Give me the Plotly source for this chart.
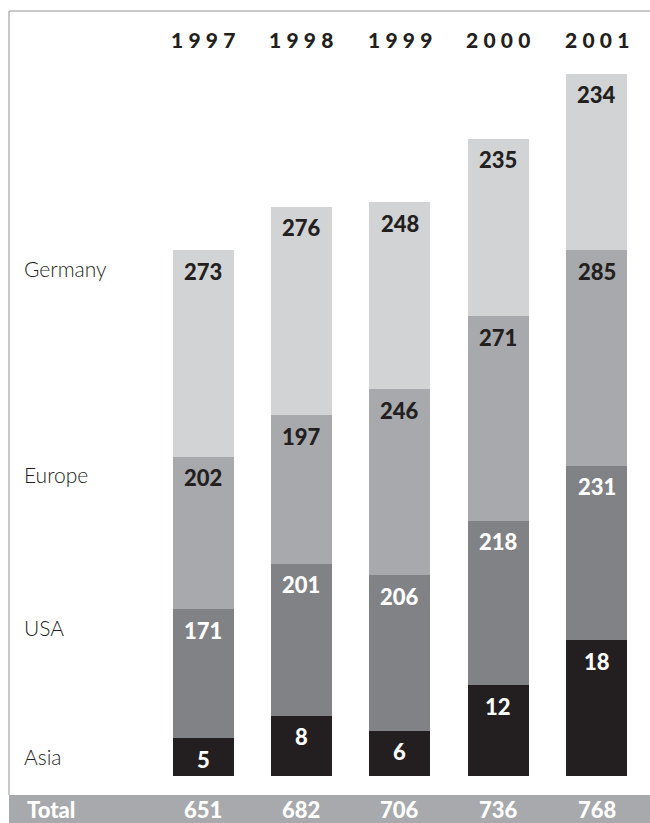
import plotly.graph_objects as go

years = ["1997", "1998", "1999", "2000", "2001"]
asia = [5, 8, 6, 12, 18]
usa = [171, 201, 206, 218, 231]
europe = [202, 197, 246, 271, 285]
germany = [273, 276, 248, 235, 234]
totals = [651, 682, 706, 736, 768]
series_names = ["Asia", "USA", "Europe", "Germany"]

# In the original artwork the Asia segments are drawn at ten times their value
ASIA_SCALE = 10

colors = {"Asia": "#231f20", "USA": "#808285", "Europe": "#a7a9ac", "Germany": "#d1d3d4"}
label_colors = {"Asia": "#ffffff", "USA": "#ffffff", "Europe": "#231f20", "Germany": "#231f20"}
FONT = "Lato"
NUM_W = 900

series = {
    "Asia": [v * ASIA_SCALE for v in asia],
    "USA": usa,
    "Europe": europe,
    "Germany": germany,
}
labels = {"Asia": asia, "USA": usa, "Europe": europe, "Germany": germany}

xs = list(range(len(years)))
fig = go.Figure()
for name in series_names:
    fig.add_trace(go.Bar(
        x=xs, y=series[name], name=name, width=0.62,
        marker=dict(color=colors[name], line=dict(width=0)),
        hoverinfo="skip", showlegend=False,
    ))

annotations = []
cum = [0] * len(years)
for name in series_names:
    for i in xs:
        cum[i] += series[name][i]
        annotations.append(dict(
            x=i, y=cum[i], xref="x", yref="y", text=str(labels[name][i]),
            showarrow=False, yanchor="middle", xanchor="center", yshift=-21,
            font=dict(family=FONT, size=22, color=label_colors[name], weight=NUM_W),
        ))
    # left-hand row label aligned with first column's segment
    annotations.append(dict(
        x=0.021, xref="paper", y=cum[0], yref="y", text=name,
        showarrow=False, yanchor="middle", xanchor="left", yshift=-18,
        font=dict(family=FONT, size=21, color="#231f20", weight=300),
    ))

# year headers (letter-spaced)
for i, yr in enumerate(years):
    annotations.append(dict(
        x=i, xref="x", y=0.963, yref="paper", text="\u2005".join(yr),
        showarrow=False, yanchor="middle", xanchor="center",
        font=dict(family=FONT, size=21, color="#231f20", weight=NUM_W),
    ))

# totals row
PLOT_H = 765
band_mid = -(809.5 - 776) / PLOT_H
annotations.append(dict(
    x=0.025, xref="paper", y=band_mid, yref="paper", text="Total",
    showarrow=False, yanchor="middle", xanchor="left",
    font=dict(family=FONT, size=22, color="#ffffff", weight=NUM_W),
))
for i, t in enumerate(totals):
    annotations.append(dict(
        x=i, xref="x", y=band_mid, yref="paper", text=str(t),
        showarrow=False, yanchor="middle", xanchor="center",
        font=dict(family=FONT, size=22, color="#ffffff", weight=NUM_W),
    ))

shapes = [
    # total band
    dict(type="rect", xref="paper", yref="paper", x0=0, x1=1.02,
         y0=-(823 - 776) / PLOT_H - 0.01, y1=-(795 - 776) / PLOT_H,
         fillcolor="#a7a9ac", line=dict(width=0), layer="below"),
    # frame lines
    dict(type="line", xref="paper", yref="paper", x0=0, x1=1.02, y0=1, y1=1,
         line=dict(color="#b5b6b8", width=1.5)),
    dict(type="line", xref="paper", yref="paper", x0=0, x1=0, y0=1,
         y1=-(795 - 776) / PLOT_H, line=dict(color="#b5b6b8", width=1.5)),
]

fig.update_layout(
    width=650, height=823,
    margin=dict(l=9, r=0, t=11, b=47, pad=0),
    paper_bgcolor="white", plot_bgcolor="white",
    barmode="stack", bargap=0,
    xaxis=dict(range=[-1.972, 4.542], visible=False, fixedrange=True),
    yaxis=dict(range=[0, 1013], visible=False, fixedrange=True),
    annotations=annotations, shapes=shapes,
    hovermode=False,
)

fig.write_html(
    "out.html",
    config={"displayModeBar": False},
    post_script="document.body.style.margin='0';document.body.style.overflow='hidden';",
)
